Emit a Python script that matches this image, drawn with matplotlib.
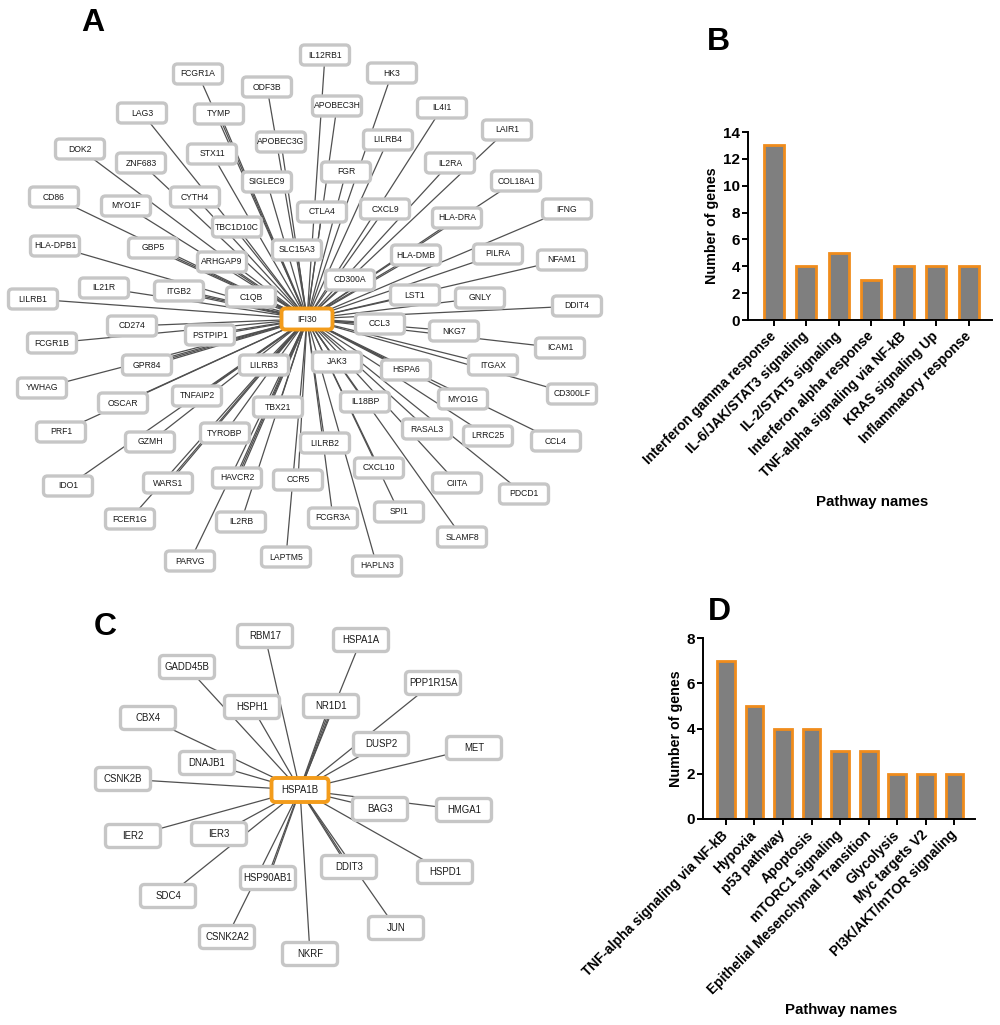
import matplotlib
matplotlib.use("Agg")
import matplotlib.pyplot as plt
import numpy as np
from matplotlib.patches import FancyBboxPatch

plt.rcParams['font.family'] = ['Liberation Sans', 'DejaVu Sans']

# ---- panel A network: hub and neighbours (layout in pixel units) ----
hub_a = "IFI30"
hub_a_pos = (307, 319)
genes_a = ["IL12RB1", "FCGR1A", "ODF3B", "HK3", "LAG3", "TYMP", "APOBEC3H", "IL4I1",
           "LAIR1", "APOBEC3G", "LILRB4", "DOK2", "STX11", "ZNF683", "IL2RA", "FGR",
           "SIGLEC9", "COL18A1", "CD86", "CYTH4", "MYO1F", "CXCL9", "CTLA4", "HLA-DRA",
           "IFNG", "TBC1D10C", "HLA-DPB1", "GBP5", "SLC15A3", "ARHGAP9", "HLA-DMB",
           "PILRA", "NFAM1", "CD300A", "IL21R", "ITGB2", "LILRB1", "C1QB", "LST1",
           "GNLY", "DDIT4", "CD274", "FCGR1B", "PSTPIP1", "CCL3", "NKG7", "ICAM1",
           "GPR84", "LILRB3", "JAK3", "HSPA6", "ITGAX", "YWHAG", "OSCAR", "TNFAIP2",
           "TBX21", "CD300LF", "IL18BP", "MYO1G", "PRF1", "GZMH", "TYROBP", "LILRB2",
           "RASAL3", "LRRC25", "CCL4", "IDO1", "WARS1", "HAVCR2", "CCR5", "CXCL10",
           "CIITA", "PDCD1", "FCER1G", "IL2RB", "SPI1", "FCGR3A", "SLAMF8", "LAPTM5",
           "PARVG", "HAPLN3"]
xa = [325, 198, 267, 392, 142, 219, 337, 442,
      507, 281, 388, 80, 212, 141, 450, 346,
      267, 516, 54, 195, 126, 385, 322, 457,
      567, 237, 55, 153, 297, 222, 416,
      498, 562, 350, 104, 179, 33, 251, 415,
      480, 577, 132, 52, 210, 380, 454, 560,
      147, 264, 337, 406, 493, 42, 123, 197,
      278, 572, 365, 463, 61, 150, 225, 325,
      427, 488, 556, 68, 168, 237, 298, 379,
      457, 524, 130, 241, 399, 333, 462, 286,
      190, 377]
ya = [55, 74, 87, 73, 113, 114, 106, 108,
      130, 142, 140, 149, 154, 163, 163, 172,
      182, 181, 197, 197, 206, 209, 212, 218,
      209, 227, 246, 248, 250, 262, 255,
      254, 260, 280, 288, 291, 299, 297, 295,
      298, 306, 326, 343, 335, 324, 331, 348,
      365, 365, 362, 370, 365, 388, 403, 396,
      407, 394, 402, 399, 432, 442, 433, 443,
      429, 436, 441, 486, 483, 478, 480, 468,
      483, 494, 519, 522, 512, 518, 537, 557,
      561, 566]
# genes linked to the hub by more than one line
multi_a = {"TYMP": 2, "ITGB2": 3, "PSTPIP1": 2, "GPR84": 3, "C1QB": 2, "CCL3": 2,
           "HSPA6": 2, "TNFAIP2": 2, "WARS1": 2, "HAVCR2": 3, "LILRB3": 2, "HLA-DMB": 2,
           "ARHGAP9": 2, "GBP5": 2}

# ---- panel C network ----
hub_c = "HSPA1B"
hub_c_pos = (300, 790)
genes_c = ["RBM17", "HSPA1A", "GADD45B", "PPP1R15A", "NR1D1", "HSPH1", "CBX4", "DUSP2",
           "MET", "DNAJB1", "CSNK2B", "BAG3", "HMGA1", "IER2", "IER3", "DDIT3", "HSPD1",
           "HSP90AB1", "SDC4", "JUN", "CSNK2A2", "NKRF"]
xc = [265, 361, 187, 433, 331, 252, 148, 381,
      474, 207, 123, 380, 464, 133, 219, 349, 445,
      268, 168, 396, 227, 310]
yc = [636, 640, 667, 683, 706, 707, 718, 744,
      748, 763, 779, 809, 810, 836, 834, 867, 872,
      878, 896, 928, 937, 954]
multi_c = {"NR1D1": 3, "DDIT3": 2, "HSP90AB1": 2}

# ---- panel B bars ----
pathways_b = ["Interferon gamma response", "IL-6/JAK/STAT3 signaling", "IL-2/STAT5 signaling",
              "Interferon alpha response", "TNF-alpha signaling via NF-kB",
              "KRAS signaling Up", "Inflammatory response"]
counts_b = [13, 4, 5, 3, 4, 4, 4]

# ---- panel D bars ----
pathways_d = ["TNF-alpha signaling via NF-kB", "Hypoxia", "p53 pathway", "Apoptosis",
              "mTORC1 signaling", "Epithelial Mesenchymal Transition", "Glycolysis",
              "Myc targets V2", "PI3K/AKT/mTOR signaling"]
counts_d = [7, 5, 4, 4, 3, 3, 2, 2, 2]

W, H = 1000, 1025
fig = plt.figure(figsize=(W / 100, H / 100), dpi=100)
net = fig.add_axes([0, 0, 1, 1])
net.set_xlim(0, W)
net.set_ylim(H, 0)
net.axis('off')

EDGE = '#505050'
BOX_EDGE = '#c6c6c6'
HUB_EDGE = '#f39c1b'


def draw_network(ax, hub, hub_pos, genes, xs, ys, multi, bw, bh, fs):
    hx, hy = hub_pos
    for g, x, y in zip(genes, xs, ys):
        n = multi.get(g, 1)
        dx, dy = hx - x, hy - y
        L = np.hypot(dx, dy)
        px, py = -dy / L, dx / L
        for k in range(n):
            off = (k - (n - 1) / 2) * 1.6
            ax.plot([x + px * off, hx + px * off * 0.3], [y + py * off, hy + py * off * 0.3],
                    color=EDGE, lw=0.9, zorder=1, solid_capstyle='butt')
    for g, x, y in zip(genes, xs, ys):
        ax.add_patch(FancyBboxPatch((x - bw / 2, y - bh / 2), bw, bh,
                                    boxstyle='round,pad=0,rounding_size=4',
                                    fc='white', ec=BOX_EDGE, lw=2.4, zorder=2))
        ax.text(x, y, g, ha='center', va='center', fontsize=fs, color='#1a1a1a', zorder=3)
    ax.add_patch(FancyBboxPatch((hx - bw / 2 - 1, hy - bh / 2 - 0.5), bw + 2, bh + 1,
                                boxstyle='round,pad=0,rounding_size=4',
                                fc='white', ec=HUB_EDGE, lw=2.8, zorder=4))
    ax.text(hx, hy, hub, ha='center', va='center', fontsize=fs, color='#1a1a1a', zorder=5)


draw_network(net, hub_a, hub_a_pos, genes_a, xa, ya, multi_a, 49, 20, 6.2)
draw_network(net, hub_c, hub_c_pos, genes_c, xc, yc, multi_c, 55, 23, 6.9)

for lab, (lx, ly) in zip("ABCD", [(93, 23), (718, 42), (105, 627), (719, 612)]):
    net.text(lx, ly, lab, ha='center', va='center', fontsize=23, fontweight='bold')


def bar_panel(rect, names, vals, ymax, fdr_xy, xl_y):
    ax = fig.add_axes(rect)
    x = np.arange(len(vals))
    ax.bar(x, vals, width=0.62, color='#7f7f7f', edgecolor='#f08c1c', linewidth=2, zorder=2)
    ax.set_ylim(0, ymax)
    ax.set_yticks(np.arange(0, ymax + 1, 2))
    ax.set_xlim(-0.8, len(vals) - 0.28)
    ax.set_xticks(x)
    ax.set_xticklabels(names, rotation=45, ha='right', va='center', rotation_mode='anchor',
                       fontsize=9.9, fontweight='bold')
    for t in ax.get_yticklabels():
        t.set_fontweight('bold')
        t.set_fontsize(11)
    ax.tick_params(direction='out', length=4, width=1.4, pad=1.5)
    ax.tick_params(axis='x', pad=6)
    for s in ['top', 'right']:
        ax.spines[s].set_visible(False)
    for s in ['left', 'bottom']:
        ax.spines[s].set_linewidth(1.4)
    ax.set_ylabel('Number of genes', fontsize=10.3, fontweight='bold', labelpad=3)
    net.text(fdr_xy[0], fdr_xy[1], 'FDR < 0.01', ha='right', va='center',
             fontsize=10.8, fontweight='bold')
    net.text(rect[0] * W + rect[2] * W / 2 + 2, xl_y, 'Pathway names', ha='center',
             va='center', fontsize=10.8, fontweight='bold')
    return ax


bar_panel([0.748, 1 - 320 / H, 0.244, 188 / H], pathways_b, counts_b, 14, (987, 227), 502)
bar_panel([0.703, 1 - 819 / H, 0.272, 181 / H], pathways_d, counts_d, 8, (973, 717), 1010)

fig.savefig('out.png', dpi=100)
